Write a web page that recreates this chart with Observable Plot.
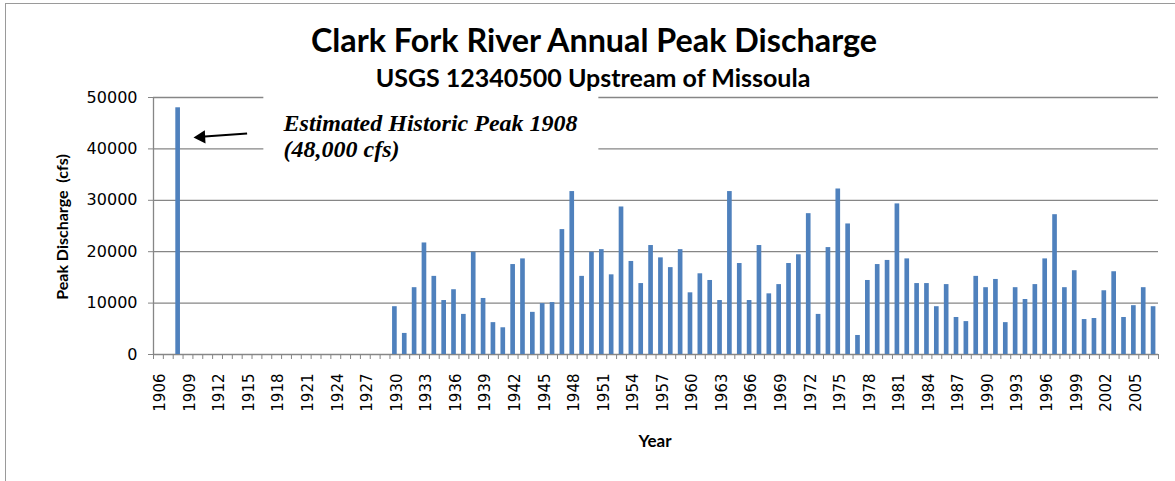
<!DOCTYPE html>
<html>
<head>
<meta charset="utf-8">
<script src="https://cdn.jsdelivr.net/npm/d3@7"></script>
<script src="https://cdn.jsdelivr.net/npm/@observablehq/plot@0.6"></script>
<style>
  html, body { margin: 0; padding: 0; background: #fff; }
  #wrap { position: relative; width: 1175px; height: 481px; overflow: hidden; background: #fff; }
  #frame { position: absolute; left: 5px; top: 3px; width: 1200px; height: 500px; border-left: 1px solid #9a9a9a; border-top: 1px solid #9a9a9a; }
  #chart { position: absolute; left: 0; top: 0; }
  .t { position: absolute; white-space: pre; color: #000; font-family: Lato, "Noto Sans", sans-serif; font-weight: bold; line-height: 1; }
  #title { left: 194px; width: 800px; text-align: center; top: 24px; font-size: 32.3px; }
  #subtitle { left: 193px; width: 800px; text-align: center; top: 65px; font-size: 25px; }
  #ylab { left: 62px; top: 227px; font-size: 16px; transform: translate(-50%, -50%) rotate(-90deg); }
  #xlab { left: 655px; top: 440px; font-size: 17px; transform: translate(-50%, -50%); }
</style>
</head>
<body>
<div id="wrap">
  <div id="frame"></div>
  <div id="chart"></div>
  <div class="t" id="title">Clark Fork River Annual Peak Discharge</div>
  <div class="t" id="subtitle">USGS 12340500 Upstream of Missoula</div>
  <div class="t" id="ylab">Peak Discharge  (cfs)</div>
  <div class="t" id="xlab">Year</div>
</div>
<script>
// ---- data ----
const years = d3.range(1906, 2008); // category axis 1906..2007
const peakYears = [1908,
  1930,1931,1932,1933,1934,1935,1936,1937,1938,1939,
  1940,1941,1942,1943,1944,1945,1946,1947,1948,1949,
  1950,1951,1952,1953,1954,1955,1956,1957,1958,1959,
  1960,1961,1962,1963,1964,1965,1966,1967,1968,1969,
  1970,1971,1972,1973,1974,1975,1976,1977,1978,1979,
  1980,1981,1982,1983,1984,1985,1986,1987,1988,1989,
  1990,1991,1992,1993,1994,1995,1996,1997,1998,1999,
  2000,2001,2002,2003,2004,2005,2006,2007];
const peakValues = [48000,
  9300,4100,13000,21700,15200,10500,12600,7800,19900,10900,
  6200,5200,17500,18600,8200,9900,10100,24300,31700,15200,
  19900,20400,15500,28700,18100,13800,21200,18800,16900,20400,
  12000,15700,14400,10500,31700,17700,10500,21200,11800,13600,
  17700,19400,27400,7800,20800,32200,25400,3700,14400,17500,
  18300,29300,18600,13800,13800,9300,13600,7200,6400,15200,
  13000,14600,6200,13000,10700,13600,18600,27200,13000,16300,
  6800,7000,12400,16100,7200,9500,13000,9300];
const yTicks = [0, 10000, 20000, 30000, 40000, 50000];
const labelYears = years.filter((y, i) => i % 3 === 0);
const annotationLines = "Estimated Historic Peak 1908\n(48,000 cfs)";

const peaks = peakYears.map((year, i) => ({year, value: peakValues[i]}));
const boundaries = years.map(y => y - 0.5).concat([years[years.length - 1] + 0.5]);
const domainX = [years[0] - 0.5, years[years.length - 1] + 0.5];

const grey = "#868686";
const chart = Plot.plot({
  width: 1175,
  height: 481,
  marginLeft: 153,
  marginRight: 17,
  marginTop: 97,
  marginBottom: 127,
  x: {domain: domainX},
  y: {domain: [0, 50000]},
  style: {fontFamily: "'DejaVu Sans', sans-serif", fontSize: "15px", color: "#000", background: "transparent", overflow: "visible"},
  marks: [
    Plot.ruleY(yTicks, {stroke: grey, strokeWidth: 1.3}),
    // white box behind the annotation (breaks the gridlines like the original)
    Plot.rect([{x1: 1916.7, x2: 1950.7, y1: 36800, y2: 51000}], {x1: "x1", x2: "x2", y1: "y1", y2: "y2", fill: "white"}),
    Plot.rectY(peaks, {x1: d => d.year - 0.5, x2: d => d.year + 0.5, y: "value", insetLeft: 2.6, insetRight: 2.6, fill: "#4F81BD"}),
    Plot.ruleX([domainX[0]], {stroke: grey, strokeWidth: 1.3}),
    Plot.axisY({ticks: yTicks, tickSize: 5, tickPadding: 11, tickFormat: d3.format("d"), label: null, stroke: grey, fontSize: 16}),
    Plot.axisX({ticks: boundaries, tickSize: 5, tickFormat: () => "", label: null, stroke: grey}),
    Plot.axisX({ticks: labelYears, tickSize: 0, tickPadding: 19, tickRotate: -90, dx: 2, tickFormat: d => String(d), label: null}),
    Plot.text([annotationLines], {x: 1918.7, y: 46900, text: d => d, textAnchor: "start", lineAnchor: "top", lineHeight: 1.05,
      fontFamily: "'Liberation Serif', serif", fontStyle: "italic", fontWeight: "bold", fontSize: 24, fill: "#000"}),
    Plot.link([{x1: 1915.0, y1: 43000, x2: 1910.7, y2: 42400}], {x1: "x1", y1: "y1", x2: "x2", y2: "y2", stroke: "#000", strokeWidth: 2}),
    Plot.dot([{x: 1910.35, y: 42300}], {x: "x", y: "y", symbol: "triangle", r: 5, fill: "#000", stroke: null, rotate: -93})
  ]
});
document.getElementById("chart").appendChild(chart);
</script>
</body>
</html>
